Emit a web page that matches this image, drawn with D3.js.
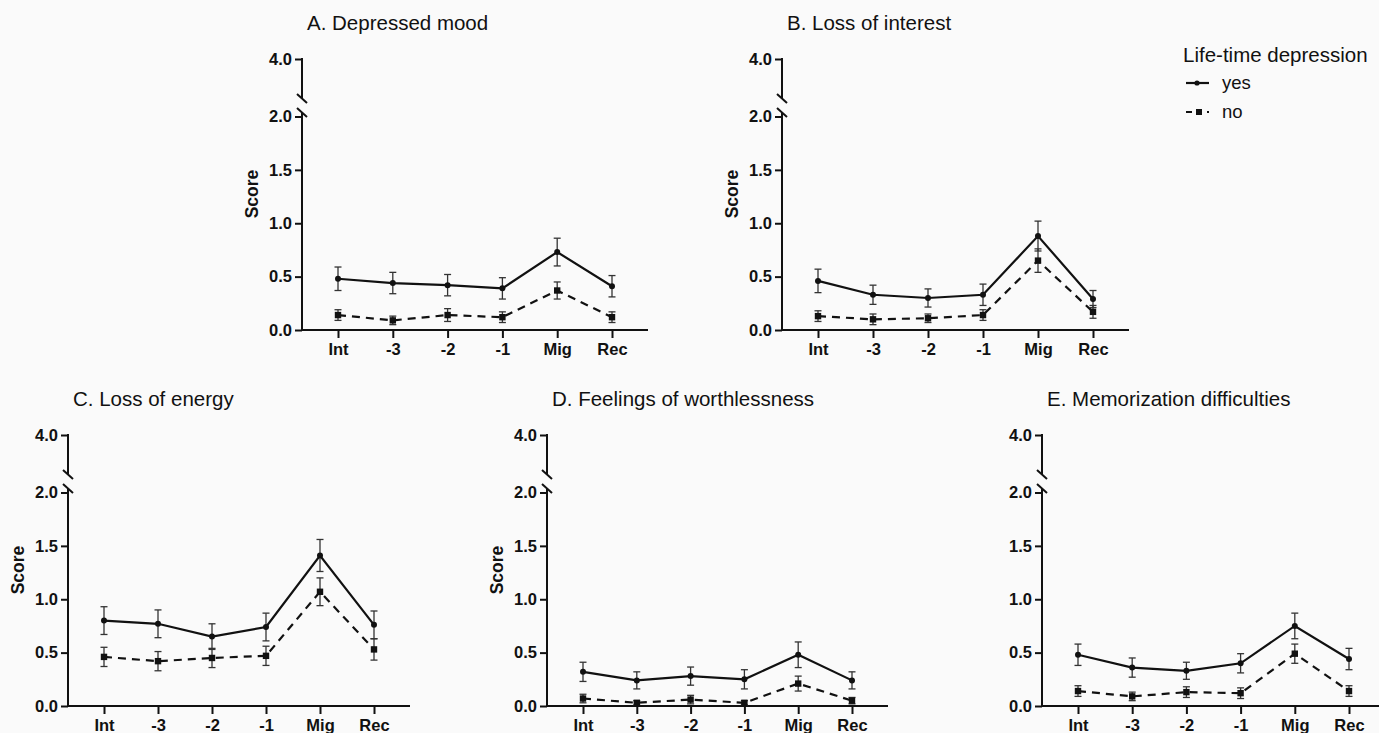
<!DOCTYPE html>
<html><head><meta charset="utf-8">
<script src="https://cdn.jsdelivr.net/npm/d3@7"></script>
<style>
html,body{margin:0;padding:0;background:#fafafa;}
svg{display:block;font-family:"Liberation Sans",Arial,sans-serif;}
</style></head>
<body>
<svg id="chart" width="1379" height="733"></svg>
<script>
const categories = ["Int","-3","-2","-1","Mig","Rec"];
const yTicks = [0, 0.5, 1.0, 1.5, 2.0, 4.0];
const titles = ["A. Depressed mood","B. Loss of interest","C. Loss of energy","D. Feelings of worthlessness","E. Memorization difficulties"];
const seriesNames = ["yes","no"];
const legendTitle = "Life-time depression";

// A. Depressed mood
const yesA = [0.48,0.44,0.42,0.39,0.73,0.41];
const yesAErr = [0.11,0.10,0.10,0.10,0.13,0.10];
const noA = [0.14,0.09,0.14,0.12,0.37,0.12];
const noAErr = [0.05,0.04,0.06,0.05,0.08,0.05];
// B. Loss of interest
const yesB = [0.46,0.33,0.30,0.33,0.88,0.29];
const yesBErr = [0.11,0.09,0.085,0.10,0.14,0.08];
const noB = [0.13,0.10,0.11,0.14,0.65,0.17];
const noBErr = [0.05,0.05,0.04,0.05,0.11,0.06];
// C. Loss of energy
const yesC = [0.80,0.77,0.65,0.74,1.41,0.76];
const yesCErr = [0.13,0.13,0.12,0.13,0.15,0.13];
const noC = [0.46,0.42,0.45,0.47,1.07,0.53];
const noCErr = [0.09,0.09,0.09,0.09,0.13,0.10];
// D. Feelings of worthlessness
const yesD = [0.32,0.24,0.28,0.25,0.48,0.24];
const yesDErr = [0.09,0.08,0.085,0.09,0.12,0.08];
const noD = [0.07,0.03,0.06,0.03,0.21,0.05];
const noDErr = [0.04,0.02,0.04,0.02,0.07,0.03];
// E. Memorization difficulties
const yesE = [0.48,0.36,0.33,0.40,0.75,0.44];
const yesEErr = [0.10,0.09,0.08,0.09,0.12,0.10];
const noE = [0.14,0.09,0.13,0.12,0.49,0.14];
const noEErr = [0.05,0.04,0.05,0.05,0.09,0.05];

const panelData = [
  {yes:yesA, yesErr:yesAErr, no:noA, noErr:noAErr},
  {yes:yesB, yesErr:yesBErr, no:noB, noErr:noBErr},
  {yes:yesC, yesErr:yesCErr, no:noC, noErr:noCErr},
  {yes:yesD, yesErr:yesDErr, no:noD, noErr:noDErr},
  {yes:yesE, yesErr:yesEErr, no:noE, noErr:noEErr}
];
// layout (positions only)
const layouts = [
  {x0:302, y0:330, xEnd:648, score:true},
  {x0:782, y0:330, xEnd:1129, score:true},
  {x0:68,  y0:706, xEnd:410, score:true},
  {x0:547, y0:706, xEnd:888, score:true},
  {x0:1042,y0:706, xEnd:1385, score:false}
];

const svg = d3.select("#chart");
svg.append("rect").attr("width",1379).attr("height",733).attr("fill","#fafafa");

function drawPanel(p, d, title) {
  const g = svg.append("g");
  const x = d3.scalePoint().domain(categories).range([p.x0 + 36, p.xEnd - 36]);
  const y = d3.scaleLinear().domain([0, 2, 4]).range([p.y0, p.y0 - 213.5, p.y0 - 271]);
  const y4 = y(4);

  // title
  g.append("text").attr("x", p.x0 + 5).attr("y", y4 - 29)
    .attr("font-size", 20.5).attr("fill", "#111").text(title);

  // y axis ticks + labels
  const ya = g.append("g").attr("transform", `translate(${p.x0},0)`)
    .call(d3.axisLeft(y).tickValues(yTicks).tickFormat(d3.format(".1f")).tickSize(7).tickPadding(3));
  ya.select(".domain").remove();
  ya.selectAll(".tick line").attr("stroke", "#111").attr("stroke-width", 2);
  ya.selectAll(".tick text").attr("font-size", 16.5).attr("font-weight", "bold")
    .attr("fill", "#111").attr("font-family", "Liberation Sans, Arial, sans-serif");

  // y axis line with break
  g.append("line").attr("x1", p.x0).attr("x2", p.x0).attr("y1", y4 - 1).attr("y2", y4 + 40)
    .attr("stroke", "#111").attr("stroke-width", 2);
  g.append("line").attr("x1", p.x0).attr("x2", p.x0).attr("y1", y4 + 54).attr("y2", p.y0 + 1)
    .attr("stroke", "#111").attr("stroke-width", 2);
  [y4 + 40, y4 + 54].forEach(c => {
    g.append("line").attr("x1", p.x0 - 5).attr("y1", c - 5).attr("x2", p.x0 + 5).attr("y2", c + 4)
      .attr("stroke", "#111").attr("stroke-width", 2);
  });

  // x axis
  const xa = g.append("g").attr("transform", `translate(0,${p.y0})`)
    .call(d3.axisBottom(x).tickSize(8).tickPadding(5));
  xa.select(".domain").remove();
  xa.selectAll(".tick line").attr("stroke", "#111").attr("stroke-width", 2);
  xa.selectAll(".tick text").attr("font-size", 16.5).attr("font-weight", "bold")
    .attr("fill", "#111").attr("font-family", "Liberation Sans, Arial, sans-serif");
  g.append("line").attr("x1", p.x0 - 1).attr("x2", p.xEnd).attr("y1", p.y0).attr("y2", p.y0)
    .attr("stroke", "#111").attr("stroke-width", 2);

  if (p.score) {
    g.append("text").attr("transform", `translate(${p.x0 - 44},${p.y0 - 136}) rotate(-90)`)
      .attr("text-anchor", "middle").attr("font-size", 17.5).attr("font-weight", "bold")
      .attr("fill", "#111").text("Score");
  }

  const line = d3.line().x((v, i) => x(categories[i])).y(v => y(v));
  // lines
  g.append("path").attr("d", line(d.yes)).attr("fill", "none").attr("stroke", "#111").attr("stroke-width", 2.2);
  g.append("path").attr("d", line(d.no)).attr("fill", "none").attr("stroke", "#111").attr("stroke-width", 2.2)
    .attr("stroke-dasharray", "8,6");

  // error bars
  function errBars(vals, errs) {
    vals.forEach((v, i) => {
      const cx = x(categories[i]);
      const top = y(v + errs[i]), bot = y(Math.max(0, v - errs[i]));
      g.append("line").attr("x1", cx).attr("x2", cx).attr("y1", top).attr("y2", bot)
        .attr("stroke", "#333").attr("stroke-width", 1.3);
      [top, bot].forEach(yy => g.append("line").attr("x1", cx - 3.5).attr("x2", cx + 3.5)
        .attr("y1", yy).attr("y2", yy).attr("stroke", "#333").attr("stroke-width", 1.3));
    });
  }
  errBars(d.yes, d.yesErr);
  errBars(d.no, d.noErr);

  // markers
  d.yes.forEach((v, i) => g.append("circle").attr("cx", x(categories[i])).attr("cy", y(v)).attr("r", 3).attr("fill", "#111"));
  d.no.forEach((v, i) => g.append("rect").attr("x", x(categories[i]) - 3.2).attr("y", y(v) - 3.2)
    .attr("width", 6.4).attr("height", 6.4).attr("fill", "#111"));
}

layouts.forEach((p, i) => drawPanel(p, panelData[i], titles[i]));

// legend
const lg = svg.append("g");
lg.append("text").attr("x", 1183).attr("y", 62).attr("font-size", 20.5).attr("fill", "#111").text(legendTitle);
lg.append("line").attr("x1", 1186).attr("x2", 1209).attr("y1", 83).attr("y2", 83).attr("stroke", "#111").attr("stroke-width", 2.2);
lg.append("circle").attr("cx", 1197).attr("cy", 83).attr("r", 2.6).attr("fill", "#111");
lg.append("text").attr("x", 1222).attr("y", 89).attr("font-size", 18.5).attr("fill", "#111").text(seriesNames[0]);
lg.append("line").attr("x1", 1186).attr("x2", 1211).attr("y1", 112).attr("y2", 112).attr("stroke", "#111").attr("stroke-width", 2.2)
  .attr("stroke-dasharray", "6,4,5,6,2,4");
lg.append("rect").attr("x", 1196).attr("y", 109).attr("width", 6).attr("height", 6).attr("fill", "#111");
lg.append("text").attr("x", 1222).attr("y", 118).attr("font-size", 18.5).attr("fill", "#111").text(seriesNames[1]);
</script>
</body></html>
